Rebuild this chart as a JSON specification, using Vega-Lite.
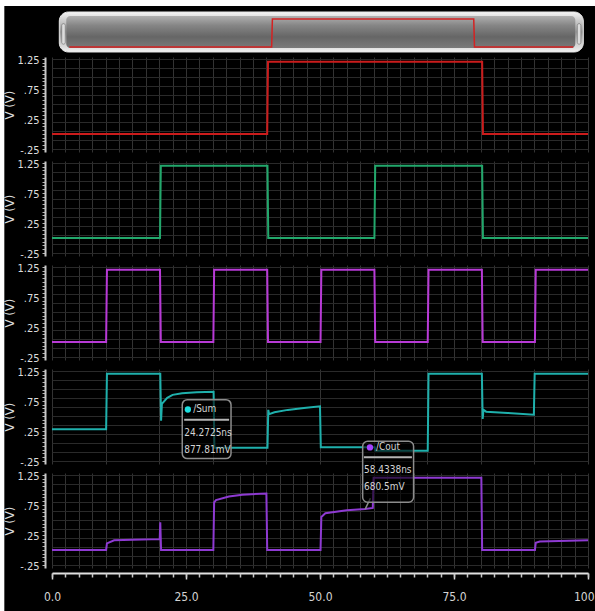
{
  "$schema": "https://vega.github.io/schema/vega-lite/v6.json",
  "background": "white",
  "padding": {"left": 3, "top": 6, "right": 2, "bottom": 4},
  "config": {
    "view": {"stroke": null, "fill": "black"},
    "font": "Liberation Sans Narrow, DejaVu Sans Condensed, sans-serif",
    "axis": {"labelFont": "Liberation Sans Narrow, DejaVu Sans Condensed, sans-serif", "titleFont": "Liberation Sans Narrow, DejaVu Sans Condensed, sans-serif"}
  },
  "datasets": {
    "A": [{"t":0,"v":0},{"t":40.15,"v":0},{"t":40.3,"v":1.2},{"t":80.25,"v":1.2},{"t":80.4,"v":0},{"t":100,"v":0}],
    "B": [{"t":0,"v":0},{"t":20.15,"v":0},{"t":20.3,"v":1.2},{"t":40.2,"v":1.2},{"t":40.35,"v":0},{"t":60.15,"v":0},{"t":60.3,"v":1.2},{"t":80.25,"v":1.2},{"t":80.4,"v":0},{"t":100,"v":0}],
    "C": [{"t":0,"v":0},{"t":10.1,"v":0},{"t":10.25,"v":1.2},{"t":20.15,"v":1.2},{"t":20.3,"v":0},{"t":30.1,"v":0},{"t":30.25,"v":1.2},{"t":40.15,"v":1.2},{"t":40.3,"v":0},{"t":50.1,"v":0},{"t":50.25,"v":1.2},{"t":60.15,"v":1.2},{"t":60.3,"v":0},{"t":70.1,"v":0},{"t":70.25,"v":1.2},{"t":80.2,"v":1.2},{"t":80.35,"v":0},{"t":90.1,"v":0},{"t":90.25,"v":1.2},{"t":100,"v":1.2}],
    "Sum": [{"t":0,"v":0.28},{"t":10.1,"v":0.28},{"t":10.25,"v":1.2},{"t":20.2,"v":1.2},{"t":20.35,"v":0.42},{"t":20.5,"v":0.7},{"t":21.5,"v":0.8},{"t":22.5,"v":0.85},{"t":24.27,"v":0.878},{"t":27,"v":0.895},{"t":30.15,"v":0.9},{"t":30.3,"v":-0.03},{"t":40.2,"v":-0.03},{"t":40.35,"v":0.6},{"t":40.5,"v":0.53},{"t":41.5,"v":0.56},{"t":44,"v":0.6},{"t":47,"v":0.63},{"t":50,"v":0.66},{"t":50.15,"v":-0.02},{"t":60.2,"v":-0.02},{"t":60.35,"v":-0.08},{"t":70.1,"v":-0.08},{"t":70.25,"v":1.2},{"t":80.2,"v":1.2},{"t":80.35,"v":0.45},{"t":80.5,"v":0.6},{"t":81,"v":0.57},{"t":85,"v":0.55},{"t":89.9,"v":0.52},{"t":90.05,"v":1.2},{"t":100,"v":1.2}],
    "Cout": [{"t":0,"v":0},{"t":10.1,"v":0},{"t":10.25,"v":0.11},{"t":11.6,"v":0.16},{"t":15,"v":0.17},{"t":20.1,"v":0.18},{"t":20.2,"v":0.46},{"t":20.35,"v":0},{"t":30.1,"v":0},{"t":30.25,"v":0.79},{"t":30.6,"v":0.83},{"t":33,"v":0.89},{"t":35.5,"v":0.92},{"t":40,"v":0.94},{"t":40.15,"v":0},{"t":50.1,"v":0},{"t":50.25,"v":0.55},{"t":51,"v":0.61},{"t":55,"v":0.66},{"t":58.43,"v":0.68},{"t":59.85,"v":0.7},{"t":60,"v":1.2},{"t":80.1,"v":1.2},{"t":80.25,"v":0},{"t":90.1,"v":0},{"t":90.25,"v":0.12},{"t":91,"v":0.14},{"t":100,"v":0.16}]
  },
  "bounds": "flush",
  "spacing": 9,
  "vconcat": [
    {
      "width": 536, "height": 35.5,
      "layer": [
        {"data": {"values": [{}]},
         "mark": {"type": "rect", "fill": "black"},
         "encoding": {
           "x": {"datum": -12.89, "type": "quantitative", "scale": {"domain": [-3.43, 102.92], "nice": false, "zero": false}, "axis": null},
           "x2": {"datum": 104.77},
           "y": {"datum": 1.757, "type": "quantitative", "scale": {"domain": [-0.0214, 1.5], "nice": false, "zero": false}, "axis": null},
           "y2": {"datum": -24.17}
         }},
        {"data": {"values": [{}]},
         "mark": {"type": "rect", "cornerRadius": 9, "stroke": "#e6e6e6", "strokeWidth": 1,
           "fill": {"gradient": "linear", "x1": 0, "y1": 0, "x2": 0, "y2": 1, "stops": [{"offset": 0, "color": "#f6f6f6"}, {"offset": 0.2, "color": "#cfcfcf"}, {"offset": 0.5, "color": "#9a9a9a"}, {"offset": 0.8, "color": "#cfcfcf"}, {"offset": 1, "color": "#f2f2f2"}]}},
         "encoding": {
           "x": {"datum": -1.98, "type": "quantitative", "axis": null},
           "x2": {"datum": 101.99},
           "y": {"datum": 1.5, "type": "quantitative", "axis": null},
           "y2": {"datum": -0.214}
         }},
        {"data": {"values": [{}]},
         "mark": {"type": "rect", "cornerRadius": 4,
           "fill": {"gradient": "linear", "x1": 0, "y1": 0, "x2": 0, "y2": 1, "stops": [{"offset": 0, "color": "#b0b0b0"}, {"offset": 0.3, "color": "#858585"}, {"offset": 0.65, "color": "#666666"}, {"offset": 1, "color": "#7a7a7a"}]}},
         "encoding": {
           "x": {"datum": -0.6, "type": "quantitative", "axis": null},
           "x2": {"datum": 100.4},
           "y": {"datum": 1.329, "type": "quantitative", "axis": null},
           "y2": {"datum": -0.043}
         }},
        {"data": {"values": [{}]},
         "mark": {"type": "rect", "cornerRadius": 2, "fill": "#dcdcdc", "stroke": "#555", "strokeWidth": 0.5},
         "encoding": {
           "x": {"datum": -1.5, "type": "quantitative", "axis": null},
           "x2": {"datum": -0.8},
           "y": {"datum": 1.0, "type": "quantitative", "axis": null},
           "y2": {"datum": 0.12}
         }},
        {"data": {"values": [{}]},
         "mark": {"type": "rect", "cornerRadius": 2, "fill": "#dcdcdc", "stroke": "#555", "strokeWidth": 0.5},
         "encoding": {
           "x": {"datum": 100.8, "type": "quantitative", "axis": null},
           "x2": {"datum": 101.5},
           "y": {"datum": 1.0, "type": "quantitative", "axis": null},
           "y2": {"datum": 0.12}
         }},
        {"data": {"name": "A"},
         "mark": {"type": "line", "color": "#d42222", "strokeWidth": 1.5},
         "encoding": {
           "x": {"field": "t", "type": "quantitative", "axis": null},
           "y": {"field": "v", "type": "quantitative", "axis": null}
         }}
      ]
    },
    {
      "width": 536, "height": 95,
      "layer": [
        {"data": {"name": "A"},
         "mark": {"type": "line", "color": "#cc1c1c", "strokeWidth": 2},
         "encoding": {
           "x": {"field": "t", "type": "quantitative", "scale": {"domain": [0, 100], "nice": false, "zero": false},
                 "axis": {"values": [0,2.5,5,7.5,10,12.5,15,17.5,20,22.5,25,27.5,30,32.5,35,37.5,40,42.5,45,47.5,50,52.5,55,57.5,60,62.5,65,67.5,70,72.5,75,77.5,80,82.5,85,87.5,90,92.5,95,97.5,100], "grid": true, "gridColor": "#333333", "labels": false, "ticks": false, "domain": false, "title": null}},
           "y": {"field": "v", "type": "quantitative", "scale": {"domain": [-0.3, 1.28], "nice": false, "zero": false},
                 "axis": {"values": [-0.25,-0.1875,-0.125,-0.0625,0,0.0625,0.125,0.1875,0.25,0.3125,0.375,0.4375,0.5,0.5625,0.625,0.6875,0.75,0.8125,0.875,0.9375,1,1.0625,1.125,1.1875,1.25],
                   "labelExpr": "datum.value == 1.25 ? '1.25' : datum.value == 0.75 ? '.75' : datum.value == 0.25 ? '.25' : datum.value == -0.25 ? '-.25' : ''",
                   "grid": false, "offset": 7, "tickSize": 3, "tickColor": "#b4b4b4", "domainColor": "#c8c8c8", "domainWidth": 2,
                   "labelColor": "#dcdcdc", "labelFontSize": 11, "labelPadding": 3, "labelOffset": 2, "labelOverlap": false,
                   "title": "V (V)", "titleColor": "#dcdcdc", "titleFontSize": 13, "titleFontWeight": "normal", "titlePadding": 0}}
         }},
        {"data": {"values": [{}]},
         "mark": {"type": "rule", "opacity": 0},
         "encoding": {
           "y": {"datum": 0, "type": "quantitative",
                 "axis": {"orient": "left", "values": [-0.25,-0.1,0.05,0.2,0.35,0.5,0.65,0.8,0.95,1.1,1.25], "grid": true, "gridColor": "#2a2a2a", "labels": false, "ticks": false, "domain": false, "title": null}}
         }}
      ],
      "resolve": {"axis": {"y": "independent"}}
    },
    {
      "width": 536, "height": 95,
      "layer": [
        {"data": {"name": "B"},
         "mark": {"type": "line", "color": "#22a86c", "strokeWidth": 2},
         "encoding": {
           "x": {"field": "t", "type": "quantitative", "scale": {"domain": [0, 100], "nice": false, "zero": false},
                 "axis": {"values": [0,2.5,5,7.5,10,12.5,15,17.5,20,22.5,25,27.5,30,32.5,35,37.5,40,42.5,45,47.5,50,52.5,55,57.5,60,62.5,65,67.5,70,72.5,75,77.5,80,82.5,85,87.5,90,92.5,95,97.5,100], "grid": true, "gridColor": "#333333", "labels": false, "ticks": false, "domain": false, "title": null}},
           "y": {"field": "v", "type": "quantitative", "scale": {"domain": [-0.3, 1.28], "nice": false, "zero": false},
                 "axis": {"values": [-0.25,-0.1875,-0.125,-0.0625,0,0.0625,0.125,0.1875,0.25,0.3125,0.375,0.4375,0.5,0.5625,0.625,0.6875,0.75,0.8125,0.875,0.9375,1,1.0625,1.125,1.1875,1.25],
                   "labelExpr": "datum.value == 1.25 ? '1.25' : datum.value == 0.75 ? '.75' : datum.value == 0.25 ? '.25' : datum.value == -0.25 ? '-.25' : ''",
                   "grid": false, "offset": 7, "tickSize": 3, "tickColor": "#b4b4b4", "domainColor": "#c8c8c8", "domainWidth": 2,
                   "labelColor": "#dcdcdc", "labelFontSize": 11, "labelPadding": 3, "labelOffset": 2, "labelOverlap": false,
                   "title": "V (V)", "titleColor": "#dcdcdc", "titleFontSize": 13, "titleFontWeight": "normal", "titlePadding": 0}}
         }},
        {"data": {"values": [{}]},
         "mark": {"type": "rule", "opacity": 0},
         "encoding": {
           "y": {"datum": 0, "type": "quantitative",
                 "axis": {"orient": "left", "values": [-0.25,-0.1,0.05,0.2,0.35,0.5,0.65,0.8,0.95,1.1,1.25], "grid": true, "gridColor": "#2a2a2a", "labels": false, "ticks": false, "domain": false, "title": null}}
         }}
      ],
      "resolve": {"axis": {"y": "independent"}}
    },
    {
      "width": 536, "height": 95,
      "layer": [
        {"data": {"name": "C"},
         "mark": {"type": "line", "color": "#b83ad6", "strokeWidth": 2},
         "encoding": {
           "x": {"field": "t", "type": "quantitative", "scale": {"domain": [0, 100], "nice": false, "zero": false},
                 "axis": {"values": [0,2.5,5,7.5,10,12.5,15,17.5,20,22.5,25,27.5,30,32.5,35,37.5,40,42.5,45,47.5,50,52.5,55,57.5,60,62.5,65,67.5,70,72.5,75,77.5,80,82.5,85,87.5,90,92.5,95,97.5,100], "grid": true, "gridColor": "#333333", "labels": false, "ticks": false, "domain": false, "title": null}},
           "y": {"field": "v", "type": "quantitative", "scale": {"domain": [-0.3, 1.28], "nice": false, "zero": false},
                 "axis": {"values": [-0.25,-0.1875,-0.125,-0.0625,0,0.0625,0.125,0.1875,0.25,0.3125,0.375,0.4375,0.5,0.5625,0.625,0.6875,0.75,0.8125,0.875,0.9375,1,1.0625,1.125,1.1875,1.25],
                   "labelExpr": "datum.value == 1.25 ? '1.25' : datum.value == 0.75 ? '.75' : datum.value == 0.25 ? '.25' : datum.value == -0.25 ? '-.25' : ''",
                   "grid": false, "offset": 7, "tickSize": 3, "tickColor": "#b4b4b4", "domainColor": "#c8c8c8", "domainWidth": 2,
                   "labelColor": "#dcdcdc", "labelFontSize": 11, "labelPadding": 3, "labelOffset": 2, "labelOverlap": false,
                   "title": "V (V)", "titleColor": "#dcdcdc", "titleFontSize": 13, "titleFontWeight": "normal", "titlePadding": 0}}
         }},
        {"data": {"values": [{}]},
         "mark": {"type": "rule", "opacity": 0},
         "encoding": {
           "y": {"datum": 0, "type": "quantitative",
                 "axis": {"orient": "left", "values": [-0.25,-0.1,0.05,0.2,0.35,0.5,0.65,0.8,0.95,1.1,1.25], "grid": true, "gridColor": "#2a2a2a", "labels": false, "ticks": false, "domain": false, "title": null}}
         }}
      ],
      "resolve": {"axis": {"y": "independent"}}
    },
    {
      "width": 536, "height": 95,
      "layer": [
        {"data": {"name": "Sum"},
         "mark": {"type": "line", "color": "#1fb0ac", "strokeWidth": 2},
         "encoding": {
           "x": {"field": "t", "type": "quantitative", "scale": {"domain": [0, 100], "nice": false, "zero": false},
                 "axis": {"values": [0,2.5,5,7.5,10,12.5,15,17.5,20,22.5,25,27.5,30,32.5,35,37.5,40,42.5,45,47.5,50,52.5,55,57.5,60,62.5,65,67.5,70,72.5,75,77.5,80,82.5,85,87.5,90,92.5,95,97.5,100], "grid": true, "gridColor": "#333333", "labels": false, "ticks": false, "domain": false, "title": null}},
           "y": {"field": "v", "type": "quantitative", "scale": {"domain": [-0.3, 1.28], "nice": false, "zero": false},
                 "axis": {"values": [-0.25,-0.1875,-0.125,-0.0625,0,0.0625,0.125,0.1875,0.25,0.3125,0.375,0.4375,0.5,0.5625,0.625,0.6875,0.75,0.8125,0.875,0.9375,1,1.0625,1.125,1.1875,1.25],
                   "labelExpr": "datum.value == 1.25 ? '1.25' : datum.value == 0.75 ? '.75' : datum.value == 0.25 ? '.25' : datum.value == -0.25 ? '-.25' : ''",
                   "grid": false, "offset": 7, "tickSize": 3, "tickColor": "#b4b4b4", "domainColor": "#c8c8c8", "domainWidth": 2,
                   "labelColor": "#dcdcdc", "labelFontSize": 11, "labelPadding": 3, "labelOffset": 2, "labelOverlap": false,
                   "title": "V (V)", "titleColor": "#dcdcdc", "titleFontSize": 13, "titleFontWeight": "normal", "titlePadding": 0}}
         }},
        {"data": {"values": [{}]},
         "mark": {"type": "rule", "opacity": 0},
         "encoding": {
           "y": {"datum": 0, "type": "quantitative",
                 "axis": {"orient": "left", "values": [-0.25,-0.1,0.05,0.2,0.35,0.5,0.65,0.8,0.95,1.1,1.25], "grid": true, "gridColor": "#2a2a2a", "labels": false, "ticks": false, "domain": false, "title": null}}
         }},
        {"data": {"values": [{}]},
         "mark": {"type": "rect", "cornerRadius": 5, "fill": "black", "fillOpacity": 0.6, "stroke": "#8c8c8c", "strokeWidth": 1.5},
         "encoding": {
           "x": {"datum": 24.3, "type": "quantitative"},
           "x2": {"datum": 33.4},
           "y": {"datum": 0.77, "type": "quantitative", "axis": null},
           "y2": {"datum": -0.21}
         }},
        {"data": {"values": [{}]},
         "mark": {"type": "point", "filled": true, "color": "#1ee0e0", "size": 40, "opacity": 1},
         "encoding": {
           "x": {"datum": 25.35, "type": "quantitative"},
           "y": {"datum": 0.607, "type": "quantitative", "axis": null}
         }},
        {"data": {"values": [{}]},
         "mark": {"type": "text", "text": "/Sum", "align": "left", "baseline": "middle", "color": "#d4d4d4", "fontSize": 10},
         "encoding": {
           "x": {"datum": 26.33, "type": "quantitative"},
           "y": {"datum": 0.607, "type": "quantitative", "axis": null}
         }},
        {"data": {"values": [{}]},
         "mark": {"type": "rule", "color": "#b4b4b4", "strokeWidth": 2},
         "encoding": {
           "x": {"datum": 24.66, "type": "quantitative"},
           "x2": {"datum": 33.04},
           "y": {"datum": 0.436, "type": "quantitative", "axis": null}
         }},
        {"data": {"values": [{}]},
         "mark": {"type": "text", "text": "24.2725ns", "align": "left", "baseline": "middle", "color": "#d4d4d4", "fontSize": 10},
         "encoding": {
           "x": {"datum": 24.66, "type": "quantitative"},
           "y": {"datum": 0.213, "type": "quantitative", "axis": null}
         }},
        {"data": {"values": [{}]},
         "mark": {"type": "text", "text": "877.81mV", "align": "left", "baseline": "middle", "color": "#d4d4d4", "fontSize": 10},
         "encoding": {
           "x": {"datum": 24.66, "type": "quantitative"},
           "y": {"datum": -0.063, "type": "quantitative", "axis": null}
         }}
      ],
      "resolve": {"axis": {"y": "independent"}}
    },
    {
      "width": 536, "height": 95,
      "layer": [
        {"data": {"name": "Cout"},
         "mark": {"type": "line", "color": "#8e3ad2", "strokeWidth": 2},
         "encoding": {
           "x": {"field": "t", "type": "quantitative", "scale": {"domain": [0, 100], "nice": false, "zero": false},
                 "axis": {"orient": "bottom", "values": [0, 25, 50, 75, 100],
                   "labelExpr": "datum.value == 100 ? '100' : format(datum.value, '.1f')",
                   "labelAlign": {"condition": {"test": "datum.value == 100", "value": "right"}, "value": "center"},
                   "labelOffset": {"condition": {"test": "datum.value == 100", "value": 6}, "value": 0},
                   "grid": false, "labelFlush": false, "labelOverlap": false, "offset": 5, "tickSize": 6, "tickColor": "#d8d8d8", "tickWidth": 1.5,
                   "domainColor": "#e0e0e0", "domainWidth": 2, "labelColor": "#d4d4d4", "labelFontSize": 12, "labelPadding": 12, "title": null}},
           "y": {"field": "v", "type": "quantitative", "scale": {"domain": [-0.3, 1.28], "nice": false, "zero": false},
                 "axis": {"values": [-0.25,-0.1875,-0.125,-0.0625,0,0.0625,0.125,0.1875,0.25,0.3125,0.375,0.4375,0.5,0.5625,0.625,0.6875,0.75,0.8125,0.875,0.9375,1,1.0625,1.125,1.1875,1.25],
                   "labelExpr": "datum.value == 1.25 ? '1.25' : datum.value == 0.75 ? '.75' : datum.value == 0.25 ? '.25' : datum.value == -0.25 ? '-.25' : ''",
                   "grid": false, "offset": 7, "tickSize": 3, "tickColor": "#b4b4b4", "domainColor": "#c8c8c8", "domainWidth": 2,
                   "labelColor": "#dcdcdc", "labelFontSize": 11, "labelPadding": 3, "labelOffset": 2, "labelOverlap": false,
                   "title": "V (V)", "titleColor": "#dcdcdc", "titleFontSize": 13, "titleFontWeight": "normal", "titlePadding": 0}}
         }},
        {"data": {"values": [{}]},
         "mark": {"type": "rule", "opacity": 0},
         "encoding": {
           "y": {"datum": 0, "type": "quantitative",
                 "axis": {"orient": "left", "values": [-0.25,-0.1,0.05,0.2,0.35,0.5,0.65,0.8,0.95,1.1,1.25], "grid": true, "gridColor": "#2a2a2a", "labels": false, "ticks": false, "domain": false, "title": null}}
         }},
        {"data": {"values": [{}]},
         "mark": {"type": "rule", "opacity": 0},
         "encoding": {
           "x": {"datum": 0, "type": "quantitative",
                 "axis": {"orient": "bottom", "values": [0,2.5,5,7.5,10,12.5,15,17.5,20,22.5,25,27.5,30,32.5,35,37.5,40,42.5,45,47.5,50,52.5,55,57.5,60,62.5,65,67.5,70,72.5,75,77.5,80,82.5,85,87.5,90,92.5,95,97.5,100], "grid": true, "gridColor": "#333333", "labels": false, "ticks": true, "tickSize": 4, "tickColor": "#c8c8c8", "tickWidth": 1.5, "domain": false, "offset": 5, "title": null}}
         }},
        {"data": {"values": [{}]},
         "mark": {"type": "rule", "color": "#8c8c8c", "strokeWidth": 1.5},
         "encoding": {
           "x": {"datum": 58.43, "type": "quantitative", "axis": null},
           "y": {"datum": 0.68, "type": "quantitative", "axis": null},
           "x2": {"datum": 59.4},
           "y2": {"datum": 0.86}
         }},
        {"data": {"values": [{}]},
         "mark": {"type": "rect", "cornerRadius": 5, "fill": "black", "fillOpacity": 0.6, "stroke": "#8c8c8c", "strokeWidth": 1.5},
         "encoding": {
           "x": {"datum": 57.96, "type": "quantitative", "axis": null},
           "x2": {"datum": 67.46},
           "y": {"datum": 1.809, "type": "quantitative", "axis": null},
           "y2": {"datum": 0.795}
         }},
        {"data": {"values": [{}]},
         "mark": {"type": "point", "filled": true, "color": "#a442ff", "size": 40, "opacity": 1},
         "encoding": {
           "x": {"datum": 59.32, "type": "quantitative", "axis": null},
           "y": {"datum": 1.705, "type": "quantitative", "axis": null}
         }},
        {"data": {"values": [{}]},
         "mark": {"type": "text", "text": "/Cout", "align": "left", "baseline": "middle", "color": "#d4d4d4", "fontSize": 10},
         "encoding": {
           "x": {"datum": 60.44, "type": "quantitative", "axis": null},
           "y": {"datum": 1.705, "type": "quantitative", "axis": null}
         }},
        {"data": {"values": [{}]},
         "mark": {"type": "rule", "color": "#b4b4b4", "strokeWidth": 2},
         "encoding": {
           "x": {"datum": 58.2, "type": "quantitative", "axis": null},
           "x2": {"datum": 67.15},
           "y": {"datum": 1.543, "type": "quantitative", "axis": null}
         }},
        {"data": {"values": [{}]},
         "mark": {"type": "text", "text": "58.4338ns", "align": "left", "baseline": "middle", "color": "#d4d4d4", "fontSize": 10},
         "encoding": {
           "x": {"datum": 58.2, "type": "quantitative", "axis": null},
           "y": {"datum": 1.322, "type": "quantitative", "axis": null}
         }},
        {"data": {"values": [{}]},
         "mark": {"type": "text", "text": "680.5mV", "align": "left", "baseline": "middle", "color": "#d4d4d4", "fontSize": 10},
         "encoding": {
           "x": {"datum": 58.2, "type": "quantitative", "axis": null},
           "y": {"datum": 1.044, "type": "quantitative", "axis": null}
         }}
      ],
      "resolve": {"axis": {"x": "independent", "y": "independent"}}
    }
  ]
}
